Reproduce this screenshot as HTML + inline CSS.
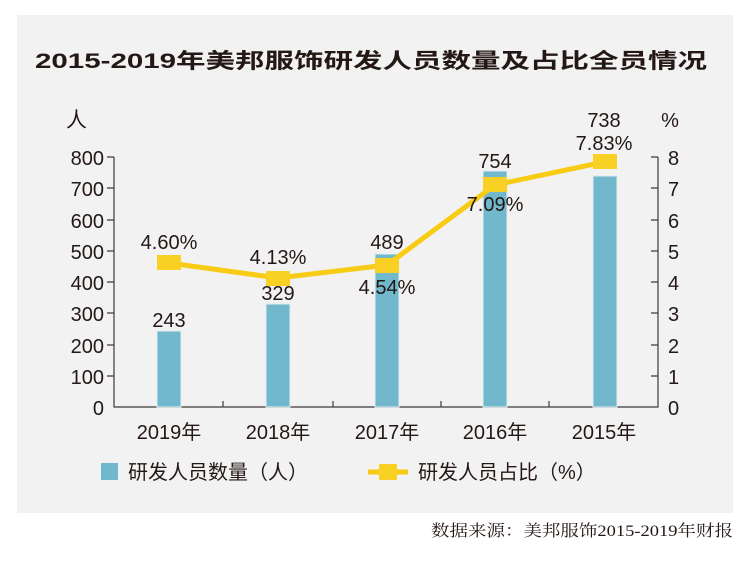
<!DOCTYPE html>
<html><head><meta charset="utf-8"><style>
body{margin:0;background:#fff;width:753px;height:564px;overflow:hidden}
svg text{font-family:"Liberation Sans","Noto Sans CJK SC",sans-serif;fill:#231815}
</style></head><body>
<svg width="753" height="564" xmlns="http://www.w3.org/2000/svg">
<rect x="17" y="15" width="716" height="498" fill="#f2f2f2"/>
<text x="35" y="68" font-size="21" font-weight="bold" textLength="672" lengthAdjust="spacingAndGlyphs">2015-2019年美邦服饰研发人员数量及占比全员情况</text>
<text x="66" y="127" font-size="21">人</text>
<text x="670" y="127" font-size="20" text-anchor="middle">%</text>
<g font-size="20" text-anchor="end">
<text x="104" y="415">0</text><text x="104" y="384">100</text><text x="104" y="353">200</text><text x="104" y="321">300</text><text x="104" y="290">400</text><text x="104" y="259">500</text><text x="104" y="228">600</text><text x="104" y="196">700</text><text x="104" y="165">800</text>
</g>
<g font-size="20">
<text x="668" y="415">0</text><text x="668" y="384">1</text><text x="668" y="353">2</text><text x="668" y="321">3</text><text x="668" y="290">4</text><text x="668" y="259">5</text><text x="668" y="228">6</text><text x="668" y="196">7</text><text x="668" y="165">8</text>
</g>
<g stroke="#3e3a39" stroke-width="1.2" fill="none">
<path d="M114 157V407H658V157"/>
<path d="M107 157H114M107 188H114M107 220H114M107 251H114M107 282H114M107 313H114M107 345H114M107 376H114"/>
<path d="M658 157H651M658 188H651M658 220H651M658 251H651M658 282H651M658 313H651M658 345H651M658 376H651"/>
<path d="M223 407V401M333 407V401M441 407V401M549 407V401"/>
</g>
<g fill="#72b8cc" stroke="#e2eef2" stroke-width="1">
<rect x="157" y="331" width="24" height="76"/>
<rect x="266" y="304" width="24" height="103"/>
<rect x="375" y="254" width="24" height="153"/>
<rect x="483" y="171" width="24" height="236"/>
<rect x="593" y="176" width="24" height="231"/>
</g>
<polyline points="169,263 278,278 387,265 495,185 604,162" fill="none" stroke="#f8cc14" stroke-width="5"/>
<g fill="#f9d125">
<rect x="157" y="255" width="24" height="15"/><rect x="266" y="271" width="24" height="15"/><rect x="375" y="258" width="24" height="15"/><rect x="483" y="177" width="24" height="15"/><rect x="593" y="154" width="24" height="15"/>
</g>
<g font-size="20" text-anchor="middle">
<text x="169" y="249">4.60%</text><text x="169" y="327">243</text>
<text x="278" y="264">4.13%</text><text x="278" y="300">329</text>
<text x="387" y="249">489</text><text x="387" y="294">4.54%</text>
<text x="495" y="168">754</text><text x="495" y="211">7.09%</text>
<text x="604" y="127">738</text><text x="604" y="150">7.83%</text>
<text x="169" y="439">2019年</text><text x="278" y="439">2018年</text><text x="387" y="439">2017年</text><text x="495" y="439">2016年</text><text x="604" y="439">2015年</text>
</g>
<rect x="101" y="463" width="17" height="17" fill="#72b8cc"/>
<text x="128" y="479" font-size="20">研发人员数量（人）</text>
<line x1="368" y1="472" x2="408" y2="472" stroke="#f8cc14" stroke-width="5"/>
<rect x="379" y="464" width="18" height="16" fill="#f9d125"/>
<text x="418" y="479" font-size="20">研发人员占比（%）</text>
<text x="431" y="536" font-size="16" textLength="302" lengthAdjust="spacingAndGlyphs" style="font-family:'Liberation Serif','Noto Serif CJK SC',serif">数据来源：美邦服饰2015-2019年财报</text>
</svg>
</body></html>
